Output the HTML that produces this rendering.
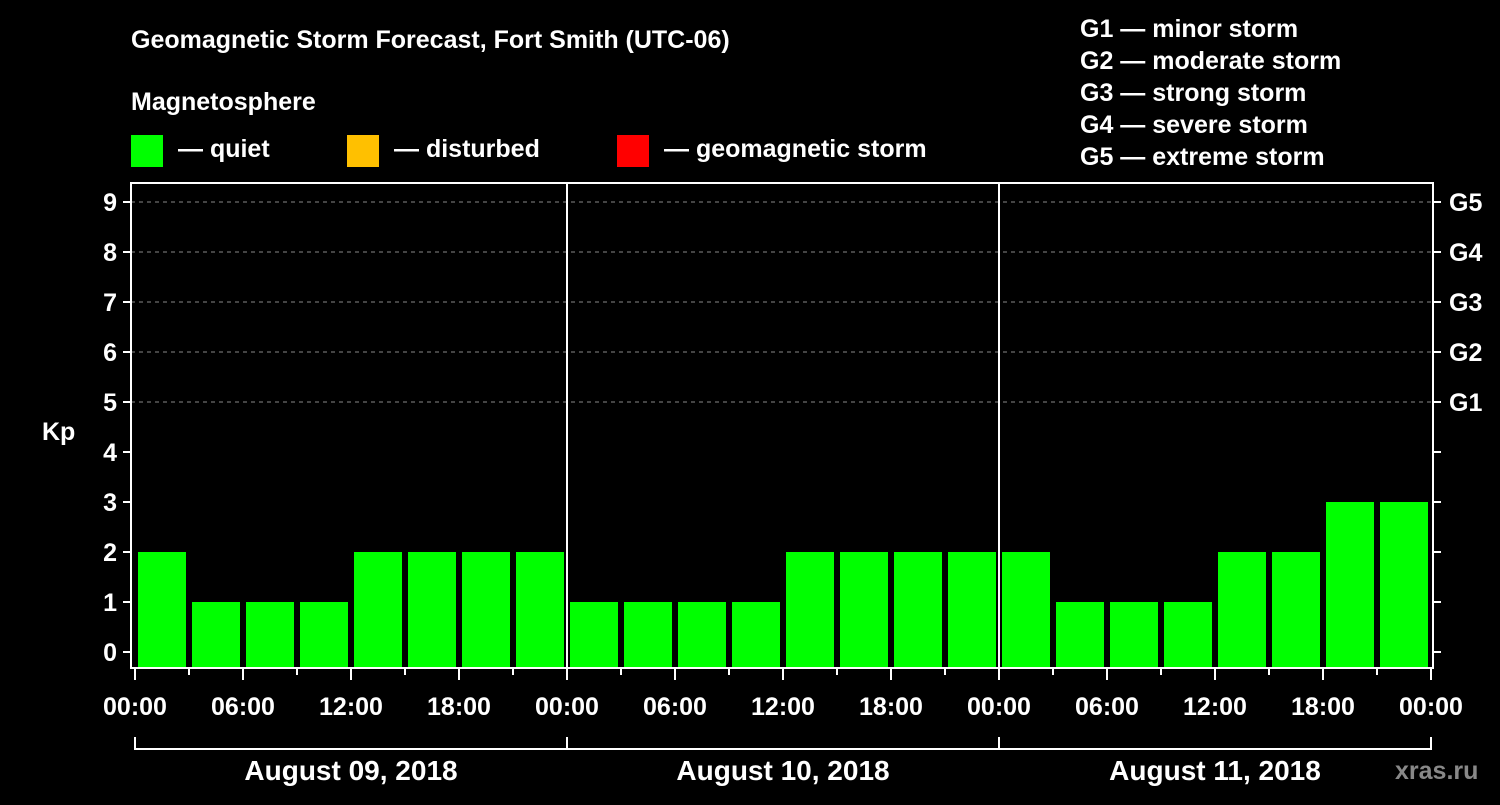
<!DOCTYPE html>
<html><head><meta charset="utf-8"><style>
body{margin:0;background:#000;width:1500px;height:800px;overflow:hidden}
svg text{font-family:"Liberation Sans",Arial,sans-serif;font-weight:bold;fill:#fff}
</style></head><body>
<svg id="chart" width="1500" height="800" xmlns="http://www.w3.org/2000/svg">
<rect width="1500" height="800" fill="#000"/>
<text x="131" y="48" font-size="25">Geomagnetic Storm Forecast, Fort Smith (UTC-06)</text>
<text x="131" y="110" font-size="25">Magnetosphere</text>
<rect x="131" y="135" width="32" height="32" fill="#00ff00"/>
<text x="178" y="157" font-size="25">— quiet</text>
<rect x="347" y="135" width="32" height="32" fill="#ffc000"/>
<text x="394" y="157" font-size="25">— disturbed</text>
<rect x="617" y="135" width="32" height="32" fill="#ff0000"/>
<text x="664" y="157" font-size="25">— geomagnetic storm</text>
<g font-size="25">
<text x="1080" y="37">G1 — minor storm</text>
<text x="1080" y="69">G2 — moderate storm</text>
<text x="1080" y="101">G3 — strong storm</text>
<text x="1080" y="133">G4 — severe storm</text>
<text x="1080" y="165">G5 — extreme storm</text>
</g>
<text x="42" y="440" font-size="25">Kp</text>
<text x="1395" y="779" font-size="25" fill="#888" style="fill:#888">xras.ru</text>
<g id="grid"></g><g id="bars"></g><g id="axes"></g>
</svg>
<script>
const kpValues=[2,1,1,1,2,2,2,2, 1,1,1,1,2,2,2,2, 2,1,1,1,2,2,3,3];
const yTicks=[0,1,2,3,4,5,6,7,8,9];
const gLabels=["G1","G2","G3","G4","G5"];
const hourLabels=["00:00","06:00","12:00","18:00"];
const dayLabels=["August 09, 2018","August 10, 2018","August 11, 2018"];
const NS="http://www.w3.org/2000/svg";
const L=131,R=1433,T=183,B=668,X0=135,PITCH=54;
const y=v=>652-50*v;
const x=i=>X0+PITCH*i;
function mk(tag,attrs,parent){const e=document.createElementNS(NS,tag);for(const k in attrs)e.setAttribute(k,attrs[k]);parent.appendChild(e);return e;}
const grid=document.getElementById('grid'),bars=document.getElementById('bars'),axes=document.getElementById('axes');
function color(v){return v>=5?'#ff0000':v>=4?'#ffc000':'#00ff00';}
yTicks.forEach(v=>{
  if(v>=5){const l=mk('line',{x1:L,x2:R,y1:y(v),y2:y(v),stroke:'#888','stroke-dasharray':'4,4','stroke-width':1},grid);
  
  }
  const t=mk('line',{x1:L-8,x2:L,y1:y(v),y2:y(v),stroke:'#fff','stroke-width':2},axes);
  
  
  const t2=mk('line',{x1:R,x2:R+8,y1:y(v),y2:y(v),stroke:'#fff','stroke-width':2},axes);
  
  
  const tx=mk('text',{x:L-14,y:y(v)+9,'text-anchor':'end','font-size':25},axes);tx.textContent=v;
  
  
});
gLabels.forEach((g,i)=>{
  const tx=mk('text',{x:R+16,y:y(5+i)+9,'font-size':25},axes);tx.textContent=g;
  
  
});
kpValues.forEach((v,i)=>{
  const r=mk('rect',{x:x(i)+3,y:y(v),width:PITCH-6,height:B-y(v),fill:color(v)},bars);
  
  
});
const frame=mk('rect',{x:L,y:T,width:R-L,height:B-T,fill:'none',stroke:'#fff','stroke-width':2},axes);


for(let d=1;d<dayLabels.length;d++){
  const s=mk('line',{x1:x(8*d),x2:x(8*d),y1:T,y2:B,stroke:'#fff','stroke-width':2},axes);
  
  
}
for(let i=0;i<=kpValues.length;i++){
  const major=i%2===0;
  const t=mk('line',{x1:x(i),x2:x(i),y1:B,y2:B+(major?12:7),stroke:'#fff','stroke-width':2},axes);
  
  
  if(major){const tx=mk('text',{x:x(i),y:715,'text-anchor':'middle','font-size':25},axes);tx.textContent=hourLabels[(i/2)%4];
  
  }
}
const br=mk('path',{d:`M${x(0)},737 V749 H${x(24)} V737 M${x(8)},737 V749 M${x(16)},737 V749`,stroke:'#fff','stroke-width':2,fill:'none'},axes);


dayLabels.forEach((d,i)=>{
  const tx=mk('text',{x:(x(8*i)+x(8*i+8))/2,y:780,'text-anchor':'middle','font-size':28},axes);tx.textContent=d;
  
  
});
</script>
</body></html>
